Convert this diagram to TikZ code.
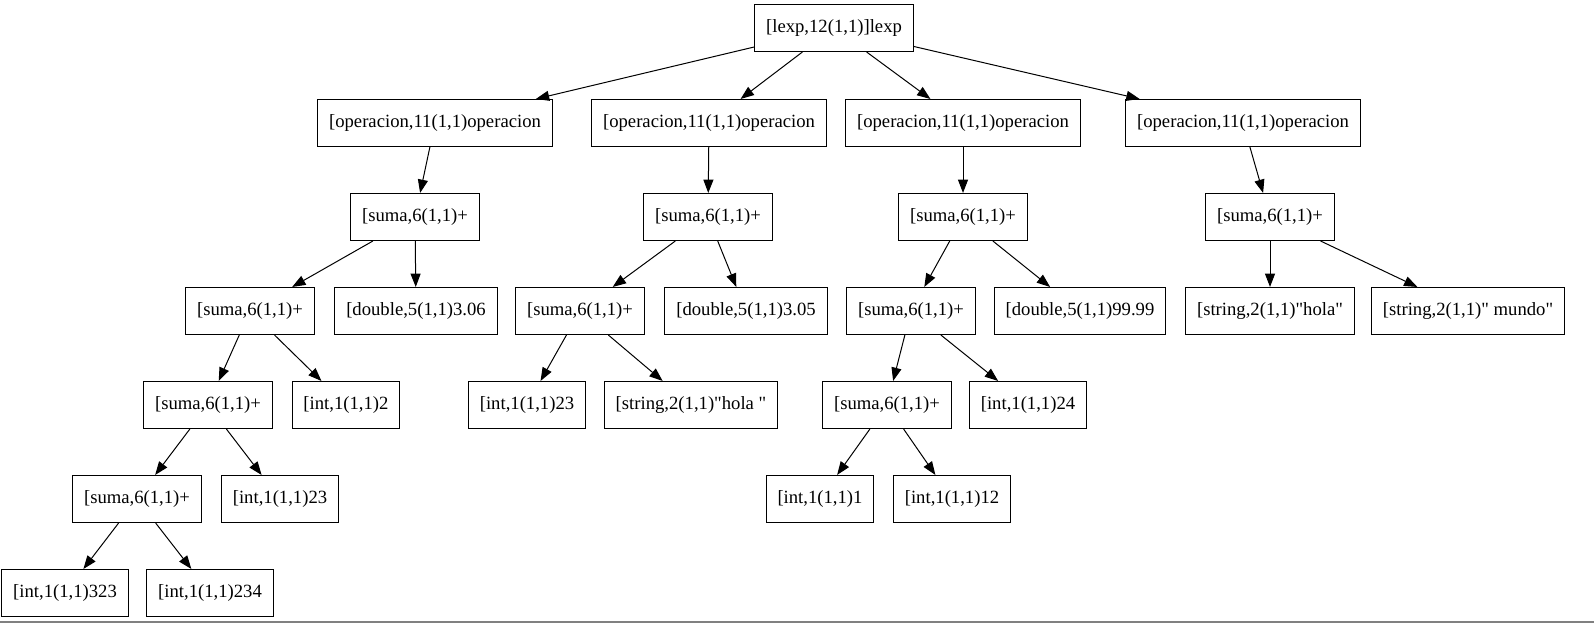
\documentclass[tikz,border=0pt]{standalone}
\usepackage{fontspec}
\setmainfont{Liberation Serif}[Ligatures=TeXOff]
\usetikzlibrary{arrows.meta,positioning}

\begin{document}
\begin{tikzpicture}[x=0.75pt,y=-0.75pt,
  main/.style = {draw, rectangle, line width=0.8pt, minimum height=35.25pt, inner xsep=8.5pt, font=\fontsize{14}{16}\selectfont},
  every path/.style = {line width=0.75pt},
  tip/.style = {-{Triangle[length=10pt,width=7.5pt]}}]
		\useasboundingbox (0,0) rectangle (1594,635);
		\node[main] (root) at (834,28) {[lexp,12(1,1)]lexp};
		\node[main] (op1) at (435,123) {[operacion,11(1,1)operacion};
		\node[main] (op2) at (709,123) {[operacion,11(1,1)operacion};
		\node[main] (op3) at (963,123) {[operacion,11(1,1)operacion};
		\node[main] (op4) at (1243,123) {[operacion,11(1,1)operacion};
		\node[main] (sa) at (415,217) {[suma,6(1,1)+};
		\node[main] (sb) at (708,217) {[suma,6(1,1)+};
		\node[main] (sc) at (963,217) {[suma,6(1,1)+};
		\node[main] (sd) at (1270,217) {[suma,6(1,1)+};
		\node[main] (sa1) at (250,311) {[suma,6(1,1)+};
		\node[main] (da) at (416,311) {[double,5(1,1)3.06};
		\node[main] (sb1) at (580,311) {[suma,6(1,1)+};
		\node[main] (db) at (746,311) {[double,5(1,1)3.05};
		\node[main] (sc1) at (911,311) {[suma,6(1,1)+};
		\node[main] (dc) at (1080,311) {[double,5(1,1)99.99};
		\node[main] (sh) at (1270,311) {[string,2(1,1)"hola"};
		\node[main] (sm) at (1468,311) {[string,2(1,1)" mundo"};
		\node[main] (sa2) at (208,405) {[suma,6(1,1)+};
		\node[main] (i2) at (346,405) {[int,1(1,1)2};
		\node[main] (ib23) at (527,405) {[int,1(1,1)23};
		\node[main] (sho) at (691,405) {[string,2(1,1)"hola "};
		\node[main] (sc2) at (887,405) {[suma,6(1,1)+};
		\node[main] (i24) at (1028,405) {[int,1(1,1)24};
		\node[main] (sa3) at (137,499) {[suma,6(1,1)+};
		\node[main] (ia23) at (280,499) {[int,1(1,1)23};
		\node[main] (i1) at (820,499) {[int,1(1,1)1};
		\node[main] (i12) at (952,499) {[int,1(1,1)12};
		\node[main] (i323) at (65,593) {[int,1(1,1)323};
		\node[main] (i234) at (210,593) {[int,1(1,1)234};
		\draw[tip] (root) -- (op1);
		\draw[tip] (root) -- (op2);
		\draw[tip] (root) -- (op3);
		\draw[tip] (root) -- (op4);
		\draw[tip] (op1) -- (sa);
		\draw[tip] (op2) -- (sb);
		\draw[tip] (op3) -- (sc);
		\draw[tip] (op4) -- (sd);
		\draw[tip] (sa) -- (sa1);
		\draw[tip] (sa) -- (da);
		\draw[tip] (sb) -- (sb1);
		\draw[tip] (sb) -- (db);
		\draw[tip] (sc) -- (sc1);
		\draw[tip] (sc) -- (dc);
		\draw[tip] (sd) -- (sh);
		\draw[tip] (sd) -- (sm);
		\draw[tip] (sa1) -- (sa2);
		\draw[tip] (sa1) -- (i2);
		\draw[tip] (sb1) -- (ib23);
		\draw[tip] (sb1) -- (sho);
		\draw[tip] (sc1) -- (sc2);
		\draw[tip] (sc1) -- (i24);
		\draw[tip] (sa2) -- (sa3);
		\draw[tip] (sa2) -- (ia23);
		\draw[tip] (sc2) -- (i1);
		\draw[tip] (sc2) -- (i12);
		\draw[tip] (sa3) -- (i323);
		\draw[tip] (sa3) -- (i234);
		\draw[gray, line width=1pt] (0,622) -- (1594,622);
	\end{tikzpicture}
\end{document}
